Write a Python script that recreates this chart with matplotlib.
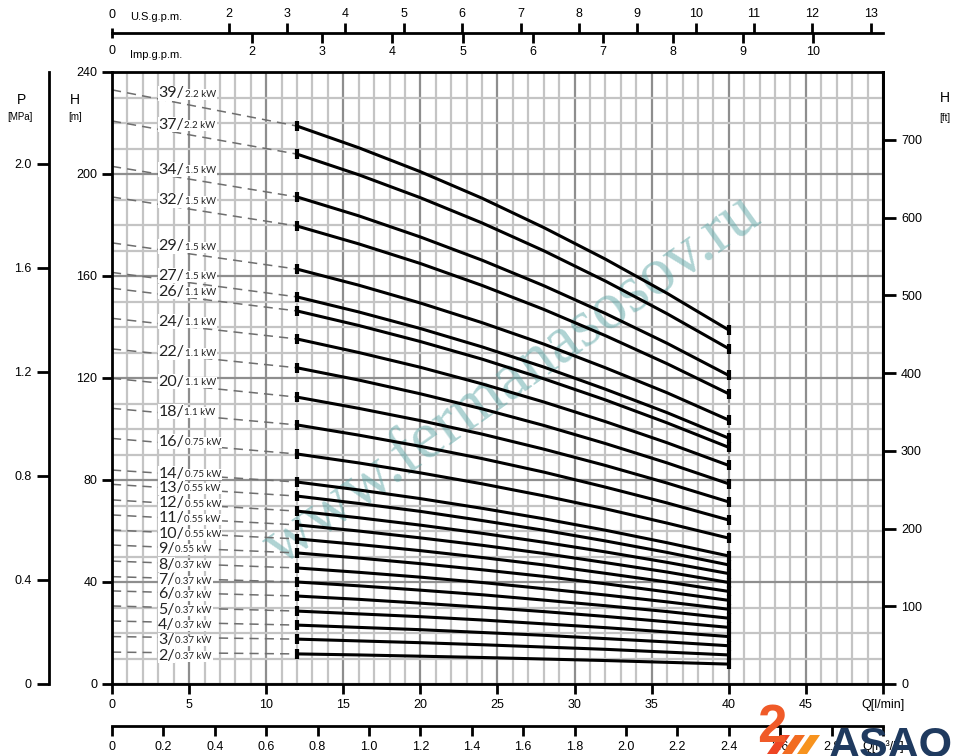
import matplotlib
matplotlib.use('Agg')
import matplotlib.pyplot as plt
from matplotlib.patches import Polygon
from matplotlib.ticker import MultipleLocator

plt.rcParams['font.family'] = ['Liberation Sans Narrow', 'Liberation Sans', 'DejaVu Sans']

# pump stages and motor power
stages = [39, 37, 34, 32, 29, 27, 26, 24, 22, 20, 18, 16, 14, 13, 12, 11, 10, 9, 8, 7, 6, 5, 4, 3, 2]
power = ['2.2', '2.2', '1.5', '1.5', '1.5', '1.5', '1.1', '1.1', '1.1', '1.1', '1.1', '0.75', '0.75',
         '0.55', '0.55', '0.55', '0.55', '0.55', '0.37', '0.37', '0.37', '0.37', '0.37', '0.37', '0.37']

# head [m]: dashed start at Q = 0, then curve points at Q = 12 ... 40 l/min
q_points = [12, 16, 20, 24, 28, 32, 36, 40]
h_q0 = [233, 220.8, 203, 191, 173, 161.4, 155.2, 143.4, 131.4, 119.9, 108.1, 96.3, 83.9, 78.3, 72.2,
        66.3, 60.4, 54.5, 48.2, 42.1, 36.5, 30.6, 24.7, 18.6, 12.5]
h_q12 = [218.8, 207.8, 191.0, 179.6, 162.7, 151.8, 146.3, 135.3, 124.0, 112.5, 101.6, 90.2, 79.2, 73.7,
         67.8, 62.4, 56.9, 51.4, 45.5, 40.0, 34.5, 28.6, 23.1, 17.6, 11.8]
h_q16 = [210.3, 199.7, 183.6, 172.6, 156.4, 145.9, 140.6, 130.0, 119.2, 108.1, 97.6, 86.7, 76.1, 70.8,
         65.2, 60.0, 54.7, 49.4, 43.8, 38.5, 33.2, 27.5, 22.2, 16.9, 11.4]
h_q20 = [200.9, 190.7, 175.3, 164.9, 149.4, 139.4, 134.3, 124.2, 113.8, 103.3, 93.2, 82.8, 72.7, 67.7,
         62.3, 57.3, 52.3, 47.2, 41.9, 36.8, 31.7, 26.4, 21.3, 16.2, 10.9]
h_q24 = [190.5, 180.8, 166.2, 156.3, 141.7, 132.2, 127.4, 117.7, 107.9, 98.0, 88.4, 78.5, 68.9, 64.1,
         59.1, 54.4, 49.6, 44.8, 39.8, 35.0, 30.1, 25.1, 20.2, 15.4, 10.4]
h_q28 = [179.0, 169.9, 156.2, 146.9, 133.3, 124.3, 119.7, 110.6, 101.4, 92.1, 83.1, 73.8, 64.8, 60.3,
         55.6, 51.2, 46.7, 42.2, 37.4, 32.9, 28.4, 23.6, 19.1, 14.5, 9.8]
h_q32 = [166.6, 158.0, 145.3, 136.6, 124.0, 115.6, 111.4, 102.9, 94.3, 85.7, 77.2, 68.7, 60.3, 56.1,
         51.8, 47.6, 43.4, 39.3, 34.9, 30.7, 26.5, 22.1, 17.8, 13.6, 9.2]
h_q36 = [153.2, 145.2, 133.6, 125.6, 114.2, 106.4, 102.4, 94.6, 86.7, 78.8, 71.0, 63.1, 55.4, 51.6,
         47.7, 43.9, 40.0, 36.1, 32.2, 28.4, 24.4, 20.4, 16.5, 12.5, 8.5]
h_q40 = [138.8, 131.5, 121.0, 113.8, 103.5, 96.4, 92.8, 85.7, 78.5, 71.4, 64.3, 57.2, 50.2, 46.7,
         43.3, 39.8, 36.3, 32.8, 29.3, 25.8, 22.2, 18.6, 15.0, 11.4, 7.8]

us_gpm = [2, 3, 4, 5, 6, 7, 8, 9, 10, 11, 12, 13]
imp_gpm = [2, 3, 4, 5, 6, 7, 8, 9, 10]
m3h_ticks = [0, 0.2, 0.4, 0.6, 0.8, 1.0, 1.2, 1.4, 1.6, 1.8, 2.0, 2.2, 2.4, 2.6, 2.8, 3.0]

W, H = 954, 756
fig = plt.figure(figsize=(W / 100, H / 100), dpi=100)


def fx(px):
    return px / W


def fy(py):
    return 1 - py / H


L, R, T, B = 112, 883, 72, 684
ax = fig.add_axes([fx(L), fy(B), fx(R) - fx(L), fy(T) - fy(B)])
ax.set_xlim(0, 50)
ax.set_ylim(0, 240)

# grid
ax.xaxis.set_major_locator(MultipleLocator(5))
ax.xaxis.set_minor_locator(MultipleLocator(1))
ax.yaxis.set_major_locator(MultipleLocator(40))
ax.yaxis.set_minor_locator(MultipleLocator(10))
ax.grid(which='minor', color='#c4c4c4', lw=1.6)
ax.grid(which='major', color='#8e8e8e', lw=1.6)
ax.set_axisbelow(True)
ax.tick_params(which='minor', length=0)
ax.tick_params(which='major', direction='out', length=7.5, width=2, labelsize=9, pad=3)
ax.set_xticks(range(0, 51, 5))
ax.set_xticklabels([str(v) for v in range(0, 50, 5)] + ['Q[l/min]'])
for s in ax.spines.values():
    s.set_linewidth(2)

# watermark
ax.text(26, 119, 'www.fermanasosov.ru', rotation=35.5, ha='center', va='center',
        fontsize=48, family='Liberation Serif', color='#5fa8a8', alpha=0.5, zorder=1.5)

# curves
cols = [h_q12, h_q16, h_q20, h_q24, h_q28, h_q32, h_q36, h_q40]
for i, n in enumerate(stages):
    hs = [c[i] for c in cols]
    ax.plot([0, 12], [h_q0[i], h_q12[i]], color='#6e6e6e', lw=1.1, dashes=(6, 4), zorder=2)
    ax.plot(q_points, hs, color='black', lw=2.2, zorder=3, solid_joinstyle='round')
    ax.plot([q_points[0], q_points[-1]], [hs[0], hs[-1]], ls='none', marker='|',
            ms=7, mew=3, color='black', zorder=3)
    t = ax.text(3.0, h_q0[i] - 0.8, f'{n}/', fontsize=11.5, family='Lato', ha='left',
                va='center_baseline', color='#222222', zorder=4,
                bbox=dict(fc='white', ec='none', pad=0.3))
    ax.annotate(f'{power[i]} kW', xy=(1, 0.12), xycoords=t, xytext=(0.3, 0),
                textcoords='offset points', fontsize=7, family='Lato', ha='left', va='bottom',
                color='#222222', zorder=4, bbox=dict(fc='white', ec='none', pad=0.6))

# pressure axis
axp = ax.twinx()
axp.set_ylim(0, 240 * 0.00980665)
axp.spines['right'].set_visible(False)
axp.spines['top'].set_visible(False)
axp.spines['bottom'].set_visible(False)
axp.spines['left'].set_position(('outward', 63 * 0.72))
axp.spines['left'].set_linewidth(2)
axp.yaxis.set_ticks_position('left')
axp.set_yticks([0, 0.4, 0.8, 1.2, 1.6, 2.0])
axp.set_yticklabels(['0', '0.4', '0.8', '1.2', '1.6', '2.0'])
axp.tick_params(direction='out', length=9, width=2, labelsize=9, pad=3.5)

# feet axis
axf = ax.twinx()
axf.set_ylim(0, 240 / 0.3048)
for k in ('left', 'top', 'bottom'):
    axf.spines[k].set_visible(False)
axf.spines['right'].set_linewidth(2)
axf.set_yticks(range(0, 701, 100))
axf.tick_params(direction='out', length=9, width=2, labelsize=9, pad=4)

# gpm axes on top
for kind in ('us', 'imp'):
    a = fig.add_axes([fx(L), fy(33), fx(R) - fx(L), 0.0001])
    a.set_xlim(0, 50)
    a.set_yticks([])
    a.patch.set_visible(False)
    for s in a.spines.values():
        s.set_visible(False)
    if kind == 'us':
        a.spines['top'].set_visible(True)
        a.spines['top'].set_linewidth(2)
        a.xaxis.set_ticks_position('top')
        a.set_xticks([g * 3.78541 for g in us_gpm])
        a.set_xticklabels([str(g) for g in us_gpm])
    else:
        a.xaxis.set_ticks_position('bottom')
        a.set_xticks([g * 4.54609 for g in imp_gpm])
        a.set_xticklabels([str(g) for g in imp_gpm])
    a.set_xticks([0], minor=True)
    a.set_xticklabels(['0'], minor=True)
    a.tick_params(which='major', direction='out', length=7.5, width=2, labelsize=9, pad=2)
    a.tick_params(which='minor', direction='out', length=3.5, width=2, labelsize=9, pad=5)

fig.text(fx(130), fy(17), 'U.S.g.p.m.', fontsize=8, ha='left', va='center')
fig.text(fx(130), fy(55), 'Imp.g.p.m.', fontsize=8, ha='left', va='center')

# m3/h axis at bottom
am = fig.add_axes([fx(L), fy(726), fx(R) - fx(L), 0.0001])
am.set_xlim(0, 3.0)
am.set_yticks([])
am.patch.set_visible(False)
for k, s in am.spines.items():
    s.set_visible(k == 'top')
am.spines['top'].set_linewidth(2)
am.xaxis.set_ticks_position('bottom')
am.set_xticks(m3h_ticks)
am.set_xticklabels(['0'] + [f'{v:.1f}' for v in m3h_ticks[1:-1]] + ['Q[m\u00b3/h]'])
am.tick_params(direction='out', length=7.5, width=2, labelsize=9, pad=3)

# axis titles
fig.text(fx(22), fy(100), 'P', fontsize=10, ha='center', va='center')
fig.text(fx(20), fy(117), '[MPa]', fontsize=7, ha='center', va='center')
fig.text(fx(75), fy(100), 'H', fontsize=10, ha='center', va='center')
fig.text(fx(75), fy(117), '[m]', fontsize=7, ha='center', va='center')
fig.text(fx(945), fy(98), 'H', fontsize=10, ha='center', va='center')
fig.text(fx(945), fy(118), '[ft]', fontsize=7, ha='center', va='center')

# logo
fig.text(fx(757), fy(703), '2', fontsize=38, fontweight='bold', family='Liberation Sans',
         color='#f05a28', ha='left', va='top', zorder=10)
for k, c in enumerate(['#ee4423', '#f26b21', '#f7931e']):
    x0 = 767 + 15 * k
    pts = [(fx(x0), fy(754)), (fx(x0 + 13), fy(735)), (fx(x0 + 23), fy(735)), (fx(x0 + 10), fy(754))]
    fig.patches.append(Polygon(pts, closed=True, fc=c, ec='none',
                               transform=fig.transFigure, zorder=10))
fig.text(fx(829), fy(726), 'ASAO', fontsize=31, fontweight='bold', family='Liberation Sans',
         color='#1f3a5f', ha='left', va='top', zorder=10)

fig.savefig('out.png', dpi=100)
